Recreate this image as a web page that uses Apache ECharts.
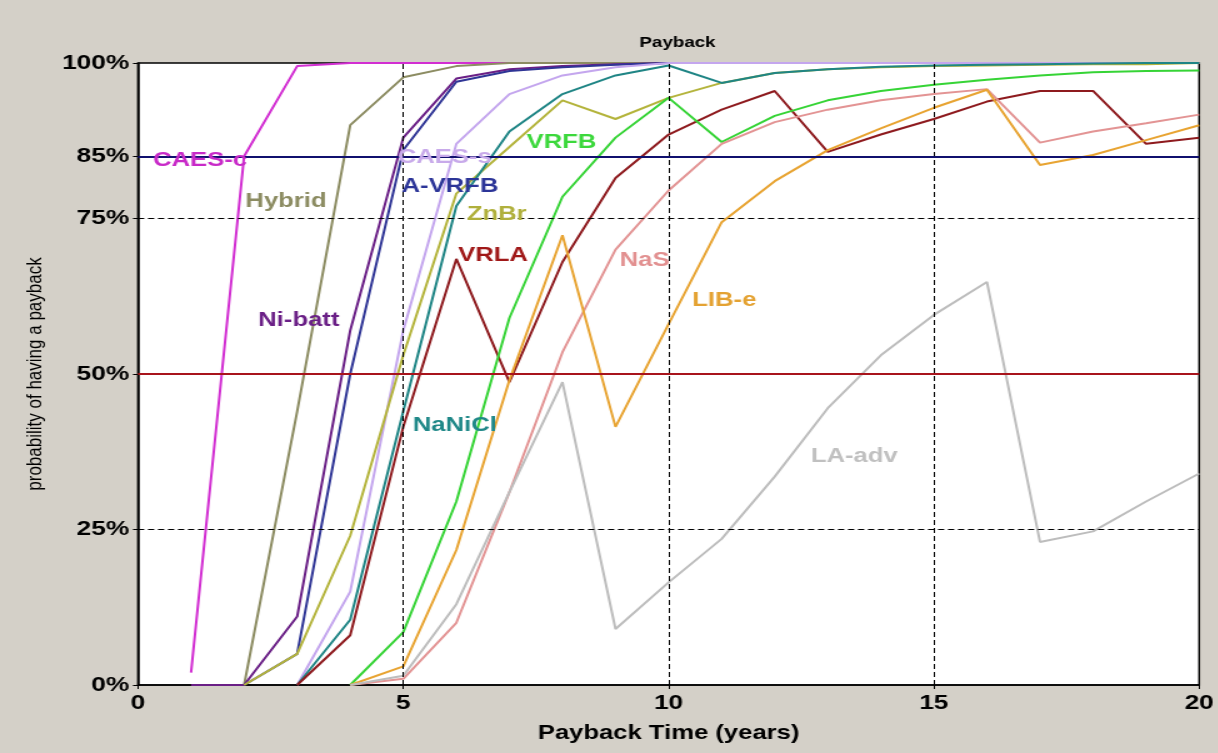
<!DOCTYPE html>
<html>
<head>
<meta charset="utf-8">
<script src="https://cdn.jsdelivr.net/npm/echarts@6/dist/echarts.min.js"></script>
<style>
  html, body { margin: 0; padding: 0; background: #d4d0c8; overflow: hidden; }
  /* the figure is drawn on a narrower canvas and widened to the page, giving the broad lettering */
  #chart { width: 974.4px; height: 753px; transform: scaleX(1.25); transform-origin: 0 0; }
</style>
</head>
<body>
<div id="chart"></div>
<script>
// Payback year (x) and cumulative probability of payback in % (y)
const years = [1, 2, 3, 4, 5, 6, 7, 8, 9, 10, 11, 12, 13, 14, 15, 16, 17, 18, 19, 20];

const caesC  = [2, 85, 99.5, 100, 100, 100, 100, 100, 100, 100, 100, 100, 100, 100, 100, 100, 100, 100, 100, 100];
const hybrid = [null, 0, 44, 90, 97.7, 99.5, 100, 100, 100, 100, 100, 100, 100, 100, 100, 100, 100, 100, 100, 100];
const niBatt = [0, 0, 11, 57, 88, 97.5, 99, 99.5, 99.8, 100, 100, 100, 100, 100, 100, 100, 100, 100, 100, 100];
const aVrfb  = [null, 0, 5, 50, 86, 97, 98.7, 99.3, 99.7, 100, 100, 100, 100, 100, 100, 100, 100, 100, 100, 100];
const caesS  = [null, null, 0, 15, 57, 87, 95, 98, 99.3, 100, 100, 100, 100, 100, 100, 100, 100, 100, 100, 100];
const znBr   = [null, 0, 5, 24, 53, 79, 86.5, 94, 91, 94.4, 96.8, 98.4, 99, 99.3, 99.5, 99.6, 99.7, 99.8, 99.8, 100];
const naNiCl = [null, null, 0, 10.5, 44, 77, 89, 95, 98, 99.6, 96.8, 98.4, 99, 99.4, 99.6, 99.7, 99.8, 99.9, 100, 100];
const vrla   = [null, null, 0, 8, 41.5, 68.5, 48.7, 68, 81.5, 88.5, 92.5, 95.5, 85.7, 88.5, 91, 93.8, 95.5, 95.5, 87, 88];
const vrfb   = [null, null, null, 0, 8.5, 29.5, 59, 78.5, 88, 94.4, 87.3, 91.5, 94, 95.5, 96.5, 97.3, 98, 98.5, 98.7, 98.8];
const naS    = [null, null, null, 0, 1, 10, 31, 53.5, 70, 79.5, 87, 90.5, 92.5, 94, 95, 95.8, 87.2, 89, 90.3, 91.7];
const libE   = [null, null, null, 0, 3, 21.7, 49, 72.3, 41.5, 58, 74.4, 81, 86, 89.5, 92.8, 95.7, 83.6, 85.2, 87.6, 90];
const laAdv  = [null, null, null, 0, 1.5, 13, 31, 48.7, 9, 16.5, 23.5, 33.5, 44.5, 53, 59.5, 64.8, 23, 24.7, 29.5, 34];

// Technology names, line colours and where each name sits (years, %)
const names  = ['CAES-c', 'Hybrid', 'Ni-batt', 'A-VRFB', 'CAES-s', 'ZnBr', 'NaNiCl', 'VRLA', 'VRFB', 'NaS', 'LIB-e', 'LA-adv'];
const values = [caesC, hybrid, niBatt, aVrfb, caesS, znBr, naNiCl, vrla, vrfb, naS, libE, laAdv];
const colors = ['#d22ed2', '#8c8c62', '#6a1f86', '#2f3596', '#c4a6ee', '#b4b43c', '#1f8585', '#8e1a1e', '#36d436', '#e39494', '#e8a432', '#bdbdbd'];
const textColors = ['#c82ac8', '#8c8c62', '#6a1f86', '#2c3598', '#c8aaea', '#b0b03c', '#1f8888', '#a01818', '#3cd83c', '#e29090', '#e4a232', '#c0c0c0'];
const labelX = [1.17, 2.79, 3.03, 5.88, 5.78, 6.76, 5.97, 6.69, 7.98, 9.55, 11.05, 13.5];
const labelY = [84.4, 77.8, 58.7, 80.2, 84.9, 75.7, 41.8, 69.1, 87.3, 68.3, 61.9, 36.8];

// Tick values on the axes and the reference levels
const yTicks = [0, 25, 50, 75, 85, 100];
const xTicks = [0, 5, 10, 15, 20];
const dashedLevels = [25, 75];
const dashedYears = [5, 10, 15];
const targetLevel = 85;
const halfLevel = 50;

const FONT = 'Arial, "Liberation Sans", sans-serif';

const lineSeries = names.map((n, i) => ({
  name: n,
  type: 'line',
  data: years.map((yr, k) => [yr, values[i][k]]),
  showSymbol: false,
  symbol: 'none',
  connectNulls: false,
  lineStyle: { color: colors[i], width: 2 },
  itemStyle: { color: colors[i] },
  z: 3
}));

const gridLines = {
  name: 'grid',
  type: 'line',
  data: [],
  silent: true,
  z: 1,
  markLine: {
    silent: true,
    symbol: 'none',
    animation: false,
    label: { show: false },
    lineStyle: { color: '#000', type: [5, 3], width: 1 },
    data: dashedLevels.map(v => ({ yAxis: v })).concat(dashedYears.map(v => ({ xAxis: v })))
  }
};

const levelLines = {
  name: 'levels',
  type: 'line',
  data: [],
  silent: true,
  z: 5,
  markLine: {
    silent: true,
    symbol: 'none',
    animation: false,
    label: { show: false },
    data: [
      { yAxis: targetLevel, lineStyle: { color: '#10106e', type: 'solid', width: 2 } },
      { yAxis: halfLevel, lineStyle: { color: '#a8141c', type: 'solid', width: 2 } }
    ]
  }
};

const nameLabels = {
  name: 'names',
  type: 'scatter',
  silent: true,
  z: 6,
  symbolSize: 1,
  itemStyle: { color: 'rgba(0,0,0,0)', opacity: 1 },
  data: names.map((n, i) => ({
    value: [labelX[i], labelY[i]],
    label: {
      show: true,
      position: 'inside',
      formatter: n,
      color: textColors[i],
      fontSize: 20.5,
      fontWeight: 'bold',
      fontFamily: FONT
    }
  }))
};

const chart = echarts.init(document.getElementById('chart'), null, { renderer: 'canvas' });
chart.setOption({
  animation: false,
  backgroundColor: '#d4d0c8',
  title: {
    text: 'Payback',
    left: 537,
    top: 30,
    textAlign: 'center',
    textStyle: { fontSize: 15, fontWeight: 'bold', color: '#000', fontFamily: FONT }
  },
  grid: {
    left: 110.4, right: 14.4, top: 63, bottom: 68,
    show: true,
    backgroundColor: '#ffffff',
    borderColor: '#000',
    borderWidth: 1.5
  },
  xAxis: {
    type: 'value',
    min: 0, max: 20, interval: 5,
    name: 'Payback Time (years)',
    nameLocation: 'middle',
    nameGap: 38,
    nameTextStyle: { fontSize: 20.5, fontWeight: 'bold', color: '#000', fontFamily: FONT },
    axisLine: { show: true, lineStyle: { color: '#000', width: 1.5 } },
    axisTick: { show: true, length: 4, lineStyle: { color: '#000' } },
    axisLabel: {
      show: true,
      customValues: xTicks,
      margin: 8,
      fontSize: 21, fontWeight: 'bold', color: '#000', fontFamily: FONT,
      formatter: v => String(v)
    },
    splitLine: { show: false }
  },
  yAxis: {
    type: 'value',
    min: 0, max: 100, interval: 5,
    name: 'probability of having a payback',
    nameLocation: 'middle',
    nameGap: 74,
    nameTextStyle: { fontSize: 17, color: '#000', fontFamily: FONT },
    axisLine: { show: true, lineStyle: { color: '#000', width: 1.5 } },
    axisTick: { show: true, length: 4, customValues: yTicks, lineStyle: { color: '#000' } },
    axisLabel: {
      show: true,
      customValues: yTicks,
      margin: 7,
      fontSize: 21, fontWeight: 'bold', color: '#000', fontFamily: FONT,
      formatter: v => (yTicks.indexOf(v) >= 0 ? v + '%' : '')
    },
    splitLine: { show: false }
  },
  series: [gridLines].concat(lineSeries, [levelLines, nameLabels])
});
</script>
</body>
</html>
